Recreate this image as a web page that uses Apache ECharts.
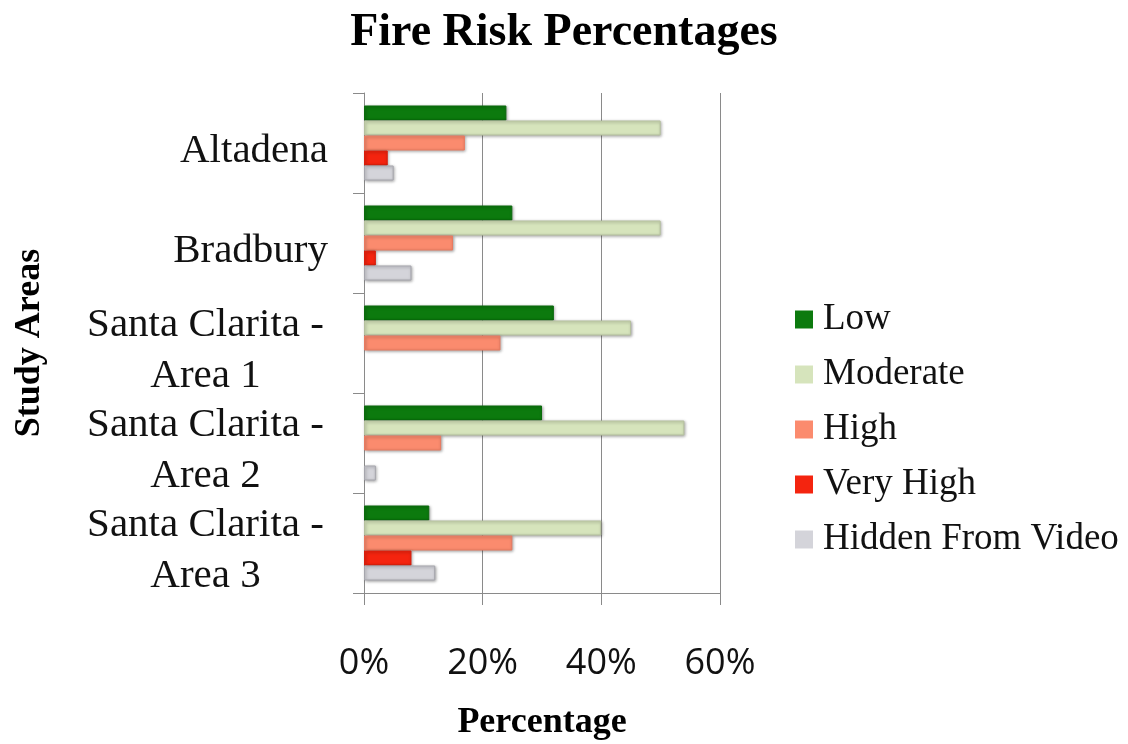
<!DOCTYPE html>
<html>
<head>
<meta charset="utf-8">
<title>Fire Risk Percentages</title>
<script src="https://cdn.jsdelivr.net/npm/echarts@6/dist/echarts.min.js"></script>
<style>
  html, body { margin: 0; padding: 0; background: #ffffff; }
  #chart { width: 1128px; height: 744px; }
</style>
</head>
<body>
<div id="chart"></div>
<script>
// Study areas (top to bottom)
const areas = [
  'Altadena',
  'Bradbury',
  'Santa Clarita -\nArea 1',
  'Santa Clarita -\nArea 2',
  'Santa Clarita -\nArea 3'
];

// Share of each risk class per study area, in percent
const lowRisk      = [24, 25, 32, 30, 11];
const moderateRisk = [50, 50, 45, 54, 40];
const highRisk     = [17, 15, 23, 13, 25];
const veryHighRisk = [4, 2, 0, 0, 8];
const hiddenRisk   = [5, 8, 0, 2, 12];

const riskNames = ['Low', 'Moderate', 'High', 'Very High', 'Hidden From Video'];
const riskValues = [lowRisk, moderateRisk, highRisk, veryHighRisk, hiddenRisk];
const riskColors = ['#0c7a0e', '#d6e4bc', '#fb8b6e', '#f4240f', '#d4d4da'];
const riskBorders = ['#0a6a0c', '#b5c09e', '#e87a60', '#d81e0c', '#a6a6ad'];

const xTicks = [0, 20, 40, 60];

const serif = '"Liberation Serif", "Times New Roman", serif';
const sans = '"Open Sans", "Noto Sans", sans-serif';

const chart = echarts.init(document.getElementById('chart'), null, { renderer: 'canvas' });

const series = riskNames.map((name, i) => ({
  name: name,
  type: 'bar',
  // empty classes get no outline so nothing shows at the axis
  data: riskValues[i].map(v => v === 0
    ? { value: v, itemStyle: { borderWidth: 0, shadowBlur: 0, shadowOffsetX: 0, shadowOffsetY: 0 } }
    : v),
  barWidth: 15,
  barGap: '0%',
  itemStyle: {
    color: riskColors[i],
    borderColor: riskBorders[i],
    borderWidth: 1,
    shadowColor: 'rgba(0,0,0,0.35)',
    shadowBlur: 3,
    shadowOffsetX: 1,
    shadowOffsetY: 1
  },
  emphasis: { disabled: true }
}));

chart.setOption({
  animation: false,
  backgroundColor: '#ffffff',
  title: {
    text: 'Fire Risk Percentages',
    left: 'center',
    top: 5,
    textStyle: { fontFamily: serif, fontWeight: 'bold', fontSize: 46, color: '#000' }
  },
  legend: {
    orient: 'vertical',
    left: 790,
    top: 296,
    itemWidth: 18,
    itemHeight: 18,
    itemGap: 18,
    icon: 'rect',
    itemStyle: { borderWidth: 0, shadowBlur: 0, shadowOffsetX: 0, shadowOffsetY: 0 },
    textStyle: { fontFamily: serif, fontSize: 37, lineHeight: 36, color: '#111', padding: [0, 0, 0, 5] },
    data: riskNames
  },
  grid: {
    left: 364, top: 93, width: 356, height: 500,
    containLabel: false,
    outerBoundsMode: 'none'
  },
  xAxis: {
    type: 'value',
    min: xTicks[0],
    max: xTicks[xTicks.length - 1],
    interval: 20,
    name: 'Percentage',
    nameLocation: 'middle',
    nameGap: 112,
    nameTextStyle: { fontFamily: serif, fontWeight: 'bold', fontSize: 36, color: '#000' },
    axisLine: { show: true, lineStyle: { color: '#8a8a8a', width: 1 } },
    axisTick: { show: true, length: 12, lineStyle: { color: '#8a8a8a' } },
    splitLine: { show: true, lineStyle: { color: '#8a8a8a', width: 1 } },
    axisLabel: {
      margin: 53,
      fontFamily: sans,
      fontSize: 36,
      color: '#111',
      formatter: v => v + '%'
    }
  },
  yAxis: {
    type: 'category',
    data: areas,
    inverse: true,
    name: 'Study Areas',
    nameLocation: 'middle',
    nameRotate: 90,
    nameGap: 316,
    nameTextStyle: { fontFamily: serif, fontWeight: 'bold', fontSize: 36, color: '#000' },
    axisLine: { show: true, lineStyle: { color: '#8a8a8a', width: 1 } },
    axisTick: { show: true, length: 11, lineStyle: { color: '#8a8a8a' } },
    splitLine: { show: false },
    axisLabel: {
      interval: 0,
      hideOverlap: false,
      margin: 36,
      fontFamily: serif,
      fontSize: 41,
      lineHeight: 50,
      color: '#111',
      padding: [16, 0, 0, 0],
      formatter: function (value) {
        if (value.indexOf('\n') < 0) return value;
        return value.split('\n').map(line => '{c|' + line + '}').join('\n');
      },
      rich: {
        c: { width: 245, align: 'center', fontFamily: serif, fontSize: 41, lineHeight: 51, color: '#111' }
      }
    }
  },
  series: series
});
</script>
</body>
</html>
